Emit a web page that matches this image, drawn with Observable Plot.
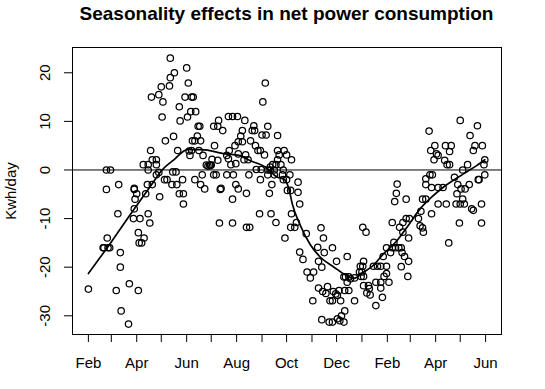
<!DOCTYPE html>
<html><head><meta charset="utf-8">
<script src="https://cdn.jsdelivr.net/npm/d3@7"></script>
<script src="https://cdn.jsdelivr.net/npm/@observablehq/plot@0.6"></script>
<style>
body{margin:0;background:#fff;}
#wrap{width:545px;height:389px;position:relative;font-family:"Liberation Sans",Arial,sans-serif;color:#000;}
#title{position:absolute;left:72px;width:429px;top:0;height:36px;text-align:center;font-weight:bold;font-size:19px;line-height:19px;padding-top:4px;box-sizing:border-box;white-space:nowrap;}
#chart{position:absolute;top:36px;left:0;}
</style></head><body>
<div id="wrap"><div id="title">Seasonality effects in net power consumption</div><div id="chart"></div></div>
<script>
const startDate = "2010-02-01";
// days after startDate
const dayOffset = [
0,22,27,22,19,24,23,18,26,37,36,39,
39,34,50,40,49,61,56,59,57,56,55,63,
73,75,61,68,62,65,70,72,78,83,67,73,
83,73,76,78,83,56,87,77,86,89,91,90,
94,100,105,100,99,120,122,118,126,128,111,125,
131,121,112,134,136,104,127,130,137,133,109,123,
126,124,135,140,93,96,103,107,102,108,115,111,
116,116,130,137,139,142,86,144,148,150,146,149,
151,158,154,153,158,159,164,153,156,161,160,171,
176,182,191,188,186,183,188,179,172,169,183,190,
180,174,171,169,177,180,183,176,193,176,193,162,
216,213,202,219,200,203,212,217,231,198,204,207,
210,215,231,239,233,231,242,248,192,195,205,211,
219,222,227,196,210,219,227,237,246,256,224,238,
242,235,229,225,222,238,243,247,256,258,221,209,
223,229,197,248,254,247,252,240,266,284,287,258,
262,280,288,298,267,275,271,281,285,281,286,290,
292,274,295,285,294,303,316,314,318,316,313,318,
306,302,304,308,299,325,313,304,307,298,312,309,
298,320,325,312,335,339,336,332,335,331,334,333,
336,336,342,343,340,344,351,348,353,357,364,361,
364,367,357,351,357,359,360,364,369,371,375,379,
382,373,383,386,391,382,390,377,376,374,388,371,
380,384,388,392,391,384,416,454,475,466,423,436,
443,472,481,418,425,427,441,470,422,435,438,441,
484,483,463,457,484,417,420,412,412,419,427,433,
447,451,455,460,465,477,476,450,457,408,412,427,
437,449,454,459,468,470,480,406,419,403,405,408,
409,453,480,440];
const kwh = [
-24.5,0,0,-4,-16,-16,-14,-16,-16,-3,-9,-17,
-20,-24.8,-23.4,-29,-31.7,-24.8,-4,-4.9,-6,-8,-10,-10,
-9,-10.9,-12.9,-14,-15,-15,-4.9,-3,-3,-1,1.1,1.1,
1.1,0,4,2.1,2.1,-3.8,-5.5,15,15.5,17.1,14,10.9,
6,23,20,19,17.3,21,17.9,15,15,15,13,12,
12,10.9,10.1,9,9,6.9,6,6,6,7,4,3.9,
4,3,4,3,-2,-2,-0.4,-0.4,-3,-3,-2,-4.9,
-4.9,-7,-2,-3,-1,-3.9,-0.5,1,1,1,0.8,0.9,
2.2,2,5,9,9,10.2,8.1,-1,-1,-4,-10.9,11,
11,11,10.2,8.1,7,5.8,5.8,5,4,3,3.3,2.1,
1.3,1.1,2.3,-1,-1,-3,-3.9,-6,-4.8,-10.9,-11.8,-3.8,
17.9,14,9.1,9,8.1,8.1,7.2,7.2,7.1,6,5,4,
4,3.1,4,4,3.1,2.1,3.1,2.1,3.1,2.1,0.1,0.1,
0,0,0,-1,-2,-1,-1,-1,-1,-2.5,-3,-2,
-2,1.1,1.1,1.1,0.6,0,-4.2,-4.2,-4.6,-7,-4.8,-9,
-9,-10.8,-11.8,-9,-10.8,-11.8,-11.8,-14,-13.1,-11.9,-14,-16.9,
-18.4,-15.9,-17,-16,-21,-21,-22.2,-18.8,-20,-24.3,-25,-25.4,
-24,-26.9,-26.9,-30.8,-31.3,-18.8,-17.8,-22,-22,-23.1,-24.8,-24.8,
-24.8,-25.5,-25.8,-26.9,-25,-26.9,-29,-30.6,-31,-31.3,-31.3,-30,
-26.9,-22.4,-22.2,-22,-11.8,-12.8,-18.8,-19.8,-19.8,-21,-21,-21.9,
-21.9,-23.8,-23.8,-24.4,-25.3,-25.7,-27.9,-19.8,-19.8,-19.8,-19.8,-21.9,
-21.3,-23.1,-24.3,-23.1,-23.1,-26.2,-17.8,-16,-17,-16,-16,-16,
-16,-14.9,-17,-17.8,-18.8,-19.9,-21.9,-2.9,-4.8,-6.5,-6,-10.8,
-11.8,-10.8,-10,-10,-14,-12.8,8,10.2,9.1,7.1,5,5,
5,5,5,4,3.3,3,3.8,4,2.1,2,1.1,1.1,
2.1,1.1,1.1,0,-1,-1,-1,-1.8,-3,-3.6,-3.6,-3.6,
-1.5,-3,-3.9,-3.9,-3,-2,-2,-4.9,-6,-6,-6,-7,
-7,-7,-7,-7,-8,-8.3,-7,-8.5,-9,-10,-11.5,-11.9,
-12.8,-10.9,-10.9,-15];
// smooth (lowess) curve
const smoothDay = [0,28,54,76,90,105,121,138,167,184,198,216,231,239,245,249,259,271,283,300,314,324,336,346,360,377,389,405,419,433,458,474,484];
const smoothKwh = [-21.3,-14.8,-8.5,-3.3,0,2.2,4.2,4.2,3.3,3.0,1.9,0.6,-1.5,-1.9,-4.0,-7.0,-11.5,-15.4,-17.9,-20,-21.6,-22.3,-21,-19.9,-17.3,-14.5,-11.8,-8,-5.6,-3.6,-0.8,0.9,2.1];
const tickMonths = ["2010-02-01","2010-03-01","2010-04-01","2010-05-01","2010-06-01","2010-07-01","2010-08-01","2010-09-01","2010-10-01","2010-11-01","2010-12-01","2011-01-01","2011-02-01","2011-03-01","2011-04-01","2011-05-01","2011-06-01"];
const tickLabels = ["Feb","","Apr","","Jun","","Aug","","Oct","","Dec","","Feb","","Apr","","Jun"];
const yTicks = [-30,-20,-10,0,10,20];

const DAY = 864e5;
const base = Date.parse(startDate + "T00:00:00Z");
const toDate = d => new Date(base + d * DAY);
const pts = dayOffset.map((d, i) => ({date: toDate(d), kwh: kwh[i]}));
const smooth = smoothDay.map((d, i) => ({date: toDate(d), kwh: smoothKwh[i]}));
const ticks = tickMonths.map(s => new Date(s + "T00:00:00Z"));
const labelOf = new Map(ticks.map((t, i) => [+t, tickLabels[i]]));

const chart = Plot.plot({
  width: 545, height: 353,
  marginTop: 11, marginBottom: 55, marginLeft: 72, marginRight: 44,
  style: {fontFamily: '"Liberation Sans", Arial, sans-serif', fontSize: "15px", background: "white", color: "black"},
  x: {type: "utc", domain: [toDate(-19.4), toDate(504.4)]},
  y: {domain: [-33.85, 25.2]},
  marks: [
    Plot.frame({stroke: "black", strokeWidth: 1}),
    Plot.ruleY([0], {stroke: "black", strokeWidth: 1}),
    Plot.dot(pts, {x: "date", y: "kwh", r: 3.2, stroke: "black", strokeWidth: 1.25, fill: "none"}),
    Plot.line(smooth, {x: "date", y: "kwh", stroke: "black", strokeWidth: 1.7, curve: "monotone-x"}),
    Plot.axisX({ticks: ticks, tickSize: 8, tickPadding: 14.6, label: null, fontSize: 15,
      tickFormat: d => labelOf.get(+d) ?? ""}),
    Plot.axisY({ticks: yTicks, tickSize: 8, tickPadding: 14.6, tickRotate: -90, label: null, fontSize: 15,
      tickFormat: d => String(d)}),
    Plot.text(["Kwh/day"], {frameAnchor: "left", dx: -57, rotate: -90, textAnchor: "middle", lineAnchor: "bottom", fontSize: 15})
  ]
});
document.getElementById("chart").appendChild(chart);
</script>
</body></html>
